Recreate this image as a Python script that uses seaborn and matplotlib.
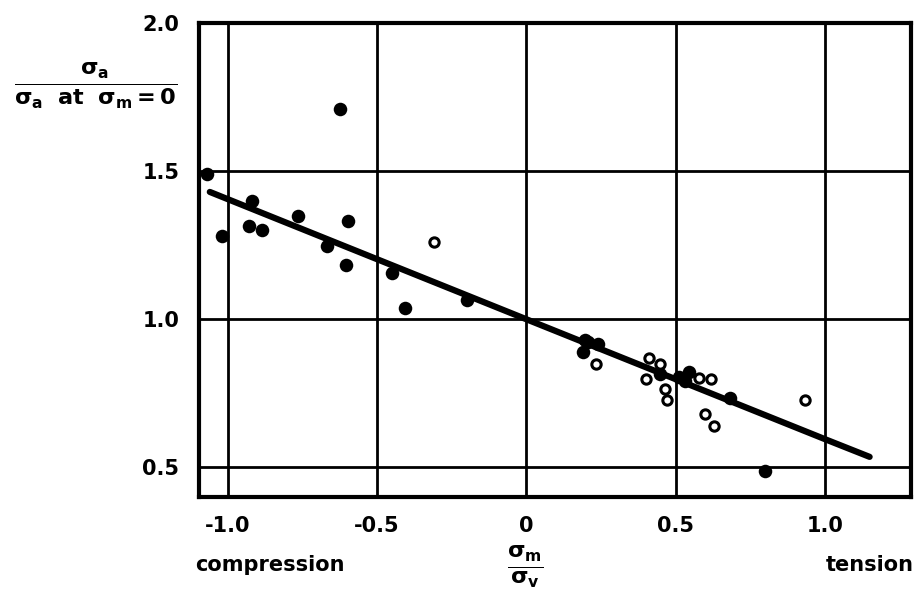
import matplotlib
matplotlib.use("Agg")
import matplotlib.pyplot as plt
import seaborn as sns
import pandas as pd

# Data
filled_x = [-1.07, -0.92, -1.02, -0.93, -0.886, -0.765, -0.597, -0.668, -0.604,
            -0.45, -0.406, -0.624, -0.20, 0.195, 0.19, 0.24, 0.208, 0.447,
            0.513, 0.544, 0.53, 0.681, 0.80]
filled_y = [1.49, 1.40, 1.28, 1.314, 1.30, 1.348, 1.331, 1.247, 1.182,
            1.155, 1.037, 1.709, 1.065, 0.93, 0.888, 0.915, 0.922, 0.814,
            0.804, 0.82, 0.79, 0.733, 0.486]
hollow_x = [-0.309, 0.235, 0.41, 0.447, 0.40, 0.466, 0.47, 0.577, 0.62, 0.597, 0.628, 0.933]
hollow_y = [1.26, 0.848, 0.868, 0.848, 0.797, 0.763, 0.726, 0.80, 0.797, 0.679, 0.639, 0.726]

line_x = [-1.06, 0.0, 1.0, 1.15]
line_y = [1.43, 1.0, 0.595, 0.535]

x_ticks = [-1.0, -0.5, 0.0, 0.5, 1.0]
x_ticklabels = ["-1.0", "-0.5", "0", "0.5", "1.0"]
y_ticks = [0.5, 1.0, 1.5, 2.0]
y_ticklabels = ["0.5", "1.0", "1.5", "2.0"]

sns.set_theme(style="white")
plt.rcParams['font.family'] = ['DejaVu Sans']
plt.rcParams['text.color'] = 'black'
plt.rcParams['xtick.color'] = 'black'
plt.rcParams['ytick.color'] = 'black'
plt.rcParams['mathtext.default'] = 'regular'

fig = plt.figure(figsize=(9.16, 5.95), dpi=100)
ax = fig.add_axes([0.217, 0.165, 0.778, 0.796])

df_f = pd.DataFrame({"x": filled_x, "y": filled_y})
df_h = pd.DataFrame({"x": hollow_x, "y": hollow_y})
df_l = pd.DataFrame({"x": line_x, "y": line_y})

sns.lineplot(data=df_l, x="x", y="y", ax=ax, color="black", linewidth=4.5, zorder=3)
sns.scatterplot(data=df_f, x="x", y="y", ax=ax, color="black", s=95,
                edgecolor="black", linewidth=0, zorder=4)
sns.scatterplot(data=df_h, x="x", y="y", ax=ax, facecolor="white", s=45,
                edgecolor="black", linewidth=2.2, zorder=4)

ax.set_xlim(-1.097, 1.29)
ax.set_ylim(0.40, 2.0)
ax.set_xticks(x_ticks)
ax.set_xticklabels(x_ticklabels)
ax.set_yticks(y_ticks)
ax.set_yticklabels(y_ticklabels)
ax.tick_params(axis="both", length=0, labelsize=15, labelcolor="black")
ax.tick_params(axis="x", pad=14)
ax.tick_params(axis="y", pad=14)
for lab in ax.get_xticklabels() + ax.get_yticklabels():
    lab.set_fontweight("bold")
ax.grid(True, color="black", linewidth=2)
ax.set_axisbelow(True)
for sp in ax.spines.values():
    sp.set_visible(True)
    sp.set_color("black")
    sp.set_linewidth(3)
ax.set_xlabel("")
ax.set_ylabel("")

fig.text(0.105, 0.855, r"$\frac{\sigma_a}{\sigma_a\ \ at\ \ \sigma_m = 0}$",
         fontsize=23, ha="center", va="center", color="black", fontweight="bold")
fig.text(0.573, 0.048, r"$\frac{\sigma_m}{\sigma_v}$", fontsize=23,
         ha="center", va="center", color="black", fontweight="bold")
fig.text(0.213, 0.05, "compression", fontsize=15, fontweight="bold",
         ha="left", va="center", color="black")
fig.text(0.998, 0.05, "tension", fontsize=15, fontweight="bold",
         ha="right", va="center", color="black")

fig.savefig("out.png", dpi=100, facecolor="white")
